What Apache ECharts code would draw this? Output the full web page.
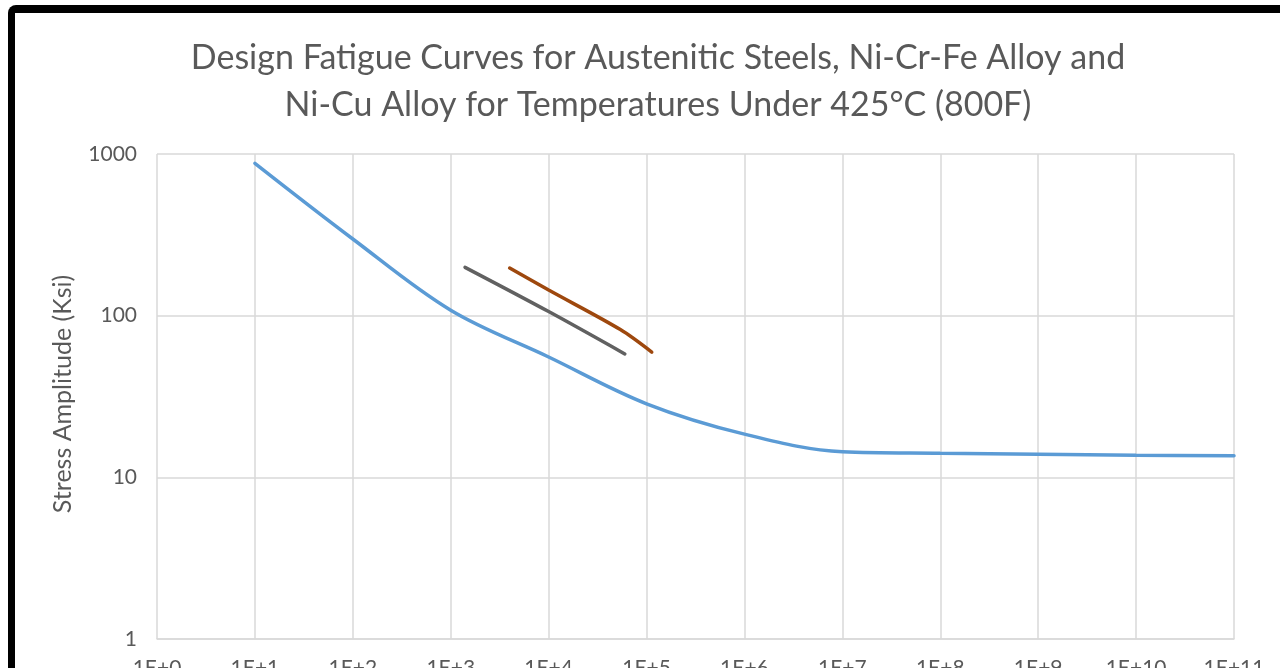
<!DOCTYPE html>
<html>
<head>
<meta charset="utf-8">
<script src="https://cdn.jsdelivr.net/npm/echarts@6/dist/echarts.min.js"></script>
<style>
  html, body { margin: 0; padding: 0; background: #fff; overflow: hidden; }
  #chart { position: absolute; left: 0; top: 0; width: 1280px; height: 668px; }
  /* heavy black frame around the chart, running off the right and bottom edges */
  #frame {
    position: absolute; left: 8px; top: 5px; width: 1400px; height: 800px;
    border-left: 7px solid #000; border-top: 8px solid #000;
    border-top-left-radius: 8px; pointer-events: none;
  }
</style>
</head>
<body>
<div id="chart"></div>
<div id="frame"></div>
<script>
// Cycles (N) and allowable stress amplitude (ksi) for each design curve
const steelCycles  = [1e1, 1e2, 1e3, 1e4, 1e5, 1e6, 1e7, 1e8, 1e9, 1e10, 1e11];
const steelStress  = [875, 298, 108, 55.5, 28.5, 18.5, 14.4, 14.1, 13.9, 13.7, 13.6];

const grayCycles   = [1400, 1e4, 6e4];
const grayStress   = [199, 106, 58];

const orangeCycles = [4000, 1e4, 5.4e4, 1.13e5];
const orangeStress = [197, 144, 82, 59.5];

const xTickLabels = ['1E+0', '1E+1', '1E+2', '1E+3', '1E+4', '1E+5', '1E+6',
                     '1E+7', '1E+8', '1E+9', '1E+10', '1E+11'];
const yTickLabels = ['1', '10', '100', '1000'];

const titleText = 'Design Fatigue Curves for Austenitic Steels, Ni-Cr-Fe Alloy and\nNi-Cu Alloy for Temperatures Under 425°C (800F)';
const yAxisTitle = 'Stress Amplitude (Ksi)';

const FONT = 'Lato, "Open Sans", sans-serif';
const TEXT = '#595959';
const GRID = '#D9D9D9';

const pairs = (xs, ys) => xs.map((x, i) => [x, ys[i]]);
const exp10 = v => Math.round(Math.log10(v));

const chart = echarts.init(document.getElementById('chart'), null, { renderer: 'canvas' });

chart.setOption({
  backgroundColor: '#ffffff',
  animation: false,
  title: {
    text: titleText,
    left: 653,
    top: 30,
    textAlign: 'center',
    textStyle: { fontFamily: FONT, fontSize: 34, fontWeight: 'normal', color: TEXT, lineHeight: 47 }
  },
  grid: { left: 157, right: 46, top: 154, bottom: 29, containLabel: false, outerBoundsMode: 'none' },
  xAxis: {
    type: 'log', logBase: 10, min: 1, max: 1e11, interval: 1,
    axisLine: { show: true, lineStyle: { color: GRID, width: 1.5 } },
    axisTick: { show: false },
    splitLine: { show: true, lineStyle: { color: GRID, width: 1.5 } },
    axisLabel: {
      margin: 19, fontFamily: FONT, fontSize: 21, color: TEXT,
      formatter: v => xTickLabels[exp10(v)]
    }
  },
  yAxis: {
    type: 'log', logBase: 10, min: 1, max: 1000, interval: 1,
    axisLine: { show: false },
    axisTick: { show: false },
    splitLine: { show: true, lineStyle: { color: GRID, width: 1.5 } },
    axisLabel: {
      margin: 20, fontFamily: FONT, fontSize: 21, color: TEXT,
      formatter: v => yTickLabels[exp10(v)]
    }
  },
  graphic: [{
    type: 'text',
    x: 63, y: 394, rotation: Math.PI / 2,
    style: {
      text: yAxisTitle, fontFamily: FONT, fontSize: 25, fill: TEXT,
      align: 'center', verticalAlign: 'middle'
    }
  }],
  series: [
    {
      name: 'Austenitic Steels', type: 'line', data: pairs(steelCycles, steelStress),
      smooth: 0.35, showSymbol: false,
      lineStyle: { color: '#5B9BD5', width: 3.5, cap: 'round' }
    },
    {
      name: 'Ni-Cr-Fe Alloy', type: 'line', data: pairs(grayCycles, grayStress),
      smooth: 0.3, showSymbol: false,
      lineStyle: { color: '#616161', width: 3.5, cap: 'round' }
    },
    {
      name: 'Ni-Cu Alloy', type: 'line', data: pairs(orangeCycles, orangeStress),
      smooth: 0.3, showSymbol: false,
      lineStyle: { color: '#9E480E', width: 3.5, cap: 'round' }
    }
  ]
});
</script>
</body>
</html>
